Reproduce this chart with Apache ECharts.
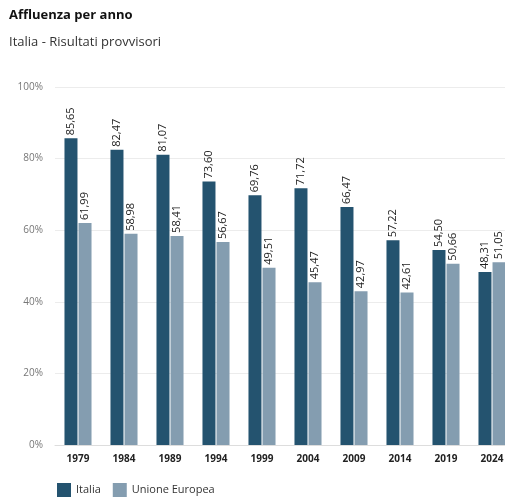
<!DOCTYPE html>
<html>
<head>
<meta charset="utf-8">
<script src="https://cdn.jsdelivr.net/npm/echarts@6/dist/echarts.min.js"></script>
<style>
  html, body { margin: 0; padding: 0; background: #fff; overflow: hidden; }
  #chart { width: 515px; height: 499px; }
</style>
</head>
<body>
<div id="chart"></div>
<script>
  var years = ["1979", "1984", "1989", "1994", "1999", "2004", "2009", "2014", "2019", "2024"];
  var italia = [85.65, 82.47, 81.07, 73.60, 69.76, 71.72, 66.47, 57.22, 54.50, 48.31];
  var europa = [61.99, 58.98, 58.41, 56.67, 49.51, 45.47, 42.97, 42.61, 50.66, 51.05];

  var font = "'Open Sans', sans-serif";

  function fmt(v) {
    return v.toFixed(2).replace(".", ",");
  }

  // rotated value labels sitting just above each bar
  var barLabel = {
    show: true,
    position: "top",
    rotate: 90,
    align: "left",
    verticalAlign: "middle",
    distance: 3,
    fontFamily: font,
    fontSize: 11,
    color: "#222",
    formatter: function (p) { return fmt(p.value); }
  };

  var chart = echarts.init(document.getElementById("chart"));
  chart.setOption({
    animation: false,
    textStyle: { fontFamily: font },
    title: {
      text: "Affluenza per anno",
      subtext: "Italia - Risultati provvisori",
      left: 4,
      top: 4,
      itemGap: 14,
      textStyle: { fontFamily: font, fontSize: 13, fontWeight: "bold", color: "#111" },
      subtextStyle: { fontFamily: font, fontSize: 13, color: "#333" }
    },
    legend: {
      left: 52,
      top: 478,
      icon: "rect",
      itemWidth: 14,
      itemHeight: 14,
      itemGap: 12,
      textStyle: { fontFamily: font, fontSize: 11, color: "#333" },
      data: ["Italia", "Unione Europea"]
    },
    grid: { left: 55, right: 0, top: 87, bottom: 54 },
    xAxis: {
      type: "category",
      data: years,
      axisTick: { show: false },
      axisLine: { lineStyle: { color: "#ddd" } },
      axisLabel: { fontFamily: font, fontSize: 10, fontWeight: "bold", color: "#222", margin: 9 }
    },
    yAxis: {
      type: "value",
      min: 0,
      max: 100,
      interval: 20,
      axisLabel: { formatter: "{value}%", fontFamily: font, fontSize: 10, color: "#777", margin: 12 },
      splitLine: { lineStyle: { color: "#ececec" } }
    },
    series: [
      {
        name: "Italia",
        type: "bar",
        data: italia,
        barWidth: 13,
        barGap: "8%",
        itemStyle: { color: "#24536f" },
        label: barLabel
      },
      {
        name: "Unione Europea",
        type: "bar",
        data: europa,
        barWidth: 13,
        itemStyle: { color: "#849db0" },
        label: barLabel
      }
    ]
  });
</script>
</body>
</html>
